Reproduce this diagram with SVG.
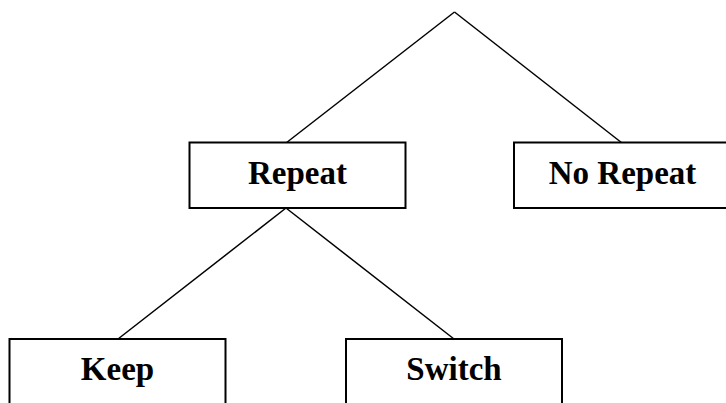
<svg xmlns="http://www.w3.org/2000/svg" width="726" height="403" viewBox="0 0 726 403">
<style>
rect{fill:#fff;stroke:#000;stroke-width:2}
line{stroke:#000;stroke-width:1.5}
text{font-family:"Liberation Serif","Times New Roman",serif;font-weight:bold;font-size:33px;text-anchor:middle;fill:#000}
</style>
<rect width="726" height="403" style="stroke:none"/>
<g id="connectors">
<line x1="454.5" y1="12" x2="286" y2="143"/>
<line x1="454.5" y1="12" x2="622" y2="143"/>
<line x1="286" y1="208" x2="118" y2="339"/>
<line x1="286" y1="208" x2="454" y2="339"/>
</g>
<g id="repeat"><rect x="189.5" y="142.5" width="216" height="65.5"/><text x="297.5" y="183.5">Repeat</text></g>
<g id="norepeat"><rect x="514" y="142.5" width="216" height="65.5"/><text x="622.5" y="183.5">No Repeat</text></g>
<g id="keep"><rect x="9.5" y="339" width="216" height="70"/><text x="117.5" y="379.5">Keep</text></g>
<g id="switch"><rect x="346" y="339" width="216" height="70"/><text x="454" y="379.5">Switch</text></g>
</svg>
